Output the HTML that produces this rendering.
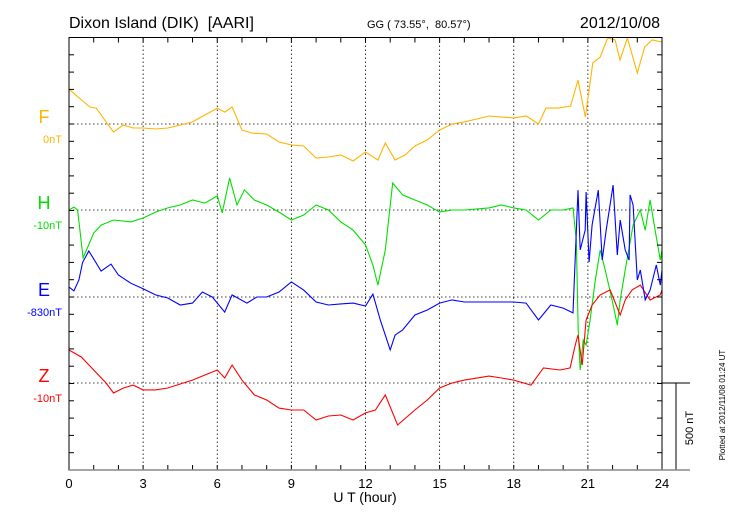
<!DOCTYPE html>
<html><head><meta charset="utf-8"><style>
body{margin:0;background:#fff}
svg{display:block;font-family:"Liberation Sans",sans-serif}
</style></head><body>
<svg id="chart" width="730" height="520">
<defs><clipPath id="clip"><rect x="69" y="37" width="593" height="433"/></clipPath></defs>
<text x="69" y="28" font-size="16">Dixon Island (DIK)&#160; [AARI]</text>
<text x="367" y="28" font-size="11">GG ( 73.55°,&#160; 80.57°)</text>
<text x="660" y="28" font-size="16" text-anchor="end">2012/10/08</text>
<g id="grid"></g>
<g id="series" clip-path="url(#clip)"></g>
<g id="axes"></g>
<text x="365" y="502" font-size="14" text-anchor="middle">U T (hour)</text>
<line x1="662" y1="383" x2="690" y2="383" stroke="#000"/>
<line x1="676" y1="383" x2="676" y2="470" stroke="#000"/>
<line x1="69" y1="470" x2="690" y2="470" stroke="#888" stroke-width="1.5"/>
<text transform="translate(693,428) rotate(-90)" font-size="11" text-anchor="middle">500 nT</text>
<text transform="translate(725,405) rotate(-90)" font-size="8" text-anchor="middle">Plotted at 2012/11/08 01:24 UT</text>
</svg>
<script>
const xTicks=[0,3,6,9,12,15,18,21,24];
const fHours=[0,0.5,0.85,1.1,1.5,1.8,2.2,2.6,3,3.5,4,4.5,5,5.5,5.8,6,6.3,6.6,7,7.4,8,8.5,9,9.5,10,10.5,11,11.5,12,12.5,12.8,13.2,13.6,14,14.5,15,15.5,16,16.5,17,17.5,18,18.5,19,19.3,19.8,20.3,20.6,20.9,21.2,21.5,21.8,22.1,22.3,22.6,23,23.3,23.6,24];
const fValues=[202,139,98,92,12,-46,-6,-23,-23,-29,-23,-6,12,52,75,92,69,98,-35,-52,-58,-104,-121,-127,-197,-191,-179,-214,-162,-208,-110,-208,-179,-127,-92,-35,0,12,29,46,40,35,46,0,92,92,104,254,40,353,387,497,486,370,497,295,445,486,474];
const hHours=[0,0.2,0.35,0.57,0.8,1,1.3,1.8,2.5,3,3.5,4,4.5,5,5.5,6,6.2,6.5,6.8,7.1,7.5,8,8.5,9,9.5,10,10.5,11,11.5,12,12.3,12.5,12.8,13.1,13.5,14,14.5,15,15.5,16,17,17.5,18,18.5,19,19.5,20,20.4,20.53,20.61,20.69,20.81,20.93,21.09,21.3,21.5,21.7,21.98,22.19,22.31,22.51,22.83,23.12,23.32,23.52,23.72,23.93,24];
const hValues=[0,17,0,-277,-200,-133,-87,-58,-69,-46,-12,12,29,58,40,81,-17,185,29,116,58,29,-12,-58,-29,29,0,-69,-116,-202,-318,-434,-231,156,87,58,29,-12,0,0,12,29,12,0,-58,0,0,12,-173,-694,-925,-751,-780,-636,-405,-231,-347,-520,-665,-520,-347,-87,0,-116,58,-116,-289,-231];
const eHours=[0,0.2,0.4,0.55,0.8,1,1.3,1.7,2,2.5,3,3.5,4,4.5,5,5.4,5.8,6.3,6.6,7.2,7.6,8,8.5,9,9.5,10,10.5,11,11.5,12,12.3,12.6,13,13.2,13.5,14,14.5,15,15.5,16,17,18,18.5,19,19.5,20,20.4,20.6,20.69,20.89,20.93,21.05,21.17,21.42,21.58,21.74,22.02,22.19,22.31,22.51,22.67,22.71,22.83,23,23.12,23.32,23.52,23.77,23.93,24];
const eValues=[58,35,98,200,266,220,150,190,127,80,48,12,-6,-46,-35,29,0,-87,12,-35,0,0,29,87,40,-29,-46,-40,-35,-52,17,-133,-306,-220,-191,-104,-75,-35,-17,-29,-29,-29,-35,-133,-46,-64,-92,618,272,387,607,202,416,618,214,387,647,243,445,272,214,590,532,98,156,-17,40,185,69,156];
const zHours=[0,0.5,1,1.5,1.8,2.2,2.6,3,3.5,4,4.5,5,5.5,6,6.3,6.6,7,7.5,8,8.5,9,9.5,10,10.5,11,11.5,12,12.4,12.8,13.3,14,14.5,15,15.5,16,17,17.5,18,18.7,19.2,19.88,20.28,20.49,20.6,20.77,20.93,21.17,21.5,21.9,22.31,22.51,22.79,23.12,23.52,23.93,24];
const zValues=[191,150,75,0,-58,-29,-12,-40,-40,-29,-6,17,46,75,29,104,17,-69,-98,-145,-156,-156,-214,-191,-185,-214,-173,-156,-69,-243,-156,-98,-29,0,17,40,29,17,-12,87,75,87,220,277,104,364,451,509,538,393,480,538,566,480,509,538];
const labels=["F","H","E","Z"], offsets=["0nT","-10nT","-830nT","-10nT"];
const colors=["#ffb400","#00e000","#0000ff","#ff0000"];
const baselines=[124,210,297,383];
const X0=69,X1=662,Y0=37.5,Y1=470,PX_PER_NT=17.3/100;
const sx=h=>X0+(X1-X0)*h/24;
const sy=(v,b)=>b-v*PX_PER_NT;
const NS="http://www.w3.org/2000/svg";
function mk(tag,attrs,parent){const e=document.createElementNS(NS,tag);for(const k in attrs)e.setAttribute(k,attrs[k]);parent.appendChild(e);return e;}
const grid=document.getElementById('grid'),axes=document.getElementById('axes'),ser=document.getElementById('series');
xTicks.forEach(t=>{if(t>0&&t<24){const l=mk('line',{x1:sx(t),x2:sx(t),y1:Y0,y2:Y1,stroke:'#000','stroke-width':0.8,'stroke-dasharray':'1.5,2.5'},grid);

}
const tx=mk('text',{x:sx(t),y:488,'font-size':13,'text-anchor':'middle'},axes);tx.textContent=t;

});
baselines.forEach(b=>{const l=mk('line',{x1:X0,x2:X1,y1:b,y2:b,stroke:'#000','stroke-width':0.8,'stroke-dasharray':'1.5,2.5'},grid);

});
const frame=mk('rect',{x:X0,y:Y0,width:X1-X0,height:Y1-Y0,fill:'none',stroke:'#000','stroke-width':1},axes);


for(let h=0;h<=24;h++){[[Y0,Y0+5],[Y1,Y1-5]].forEach(p=>{const l=mk('line',{x1:sx(h),x2:sx(h),y1:p[0],y2:p[1],stroke:'#000'},axes);

});}
for(let i=0;i<=25;i++){const y=Y0+i*17.3;[[X0,X0+5],[X1,X1-5]].forEach(p=>{const l=mk('line',{x1:p[0],x2:p[1],y1:y,y2:y,stroke:'#000'},axes);

});}
const H=[fHours,hHours,eHours,zHours],V=[fValues,hValues,eValues,zValues];
[0,1,3,2].forEach(i=>{const d=H[i].map((h,j)=>(j?'L':'M')+sx(h).toFixed(1)+','+sy(V[i][j],baselines[i]).toFixed(1)).join('');
const p=mk('path',{d:d,fill:'none',stroke:colors[i],'stroke-width':1.1},ser);

});
labels.forEach((lb,i)=>{const t=mk('text',{x:44,y:baselines[i]-1,'font-size':18,fill:colors[i],'text-anchor':'middle'},axes);t.textContent=lb;


const o=mk('text',{x:62,y:baselines[i]+19,'font-size':11,fill:colors[i],'text-anchor':'end'},axes);o.textContent=offsets[i];

});
</script>
</body></html>
